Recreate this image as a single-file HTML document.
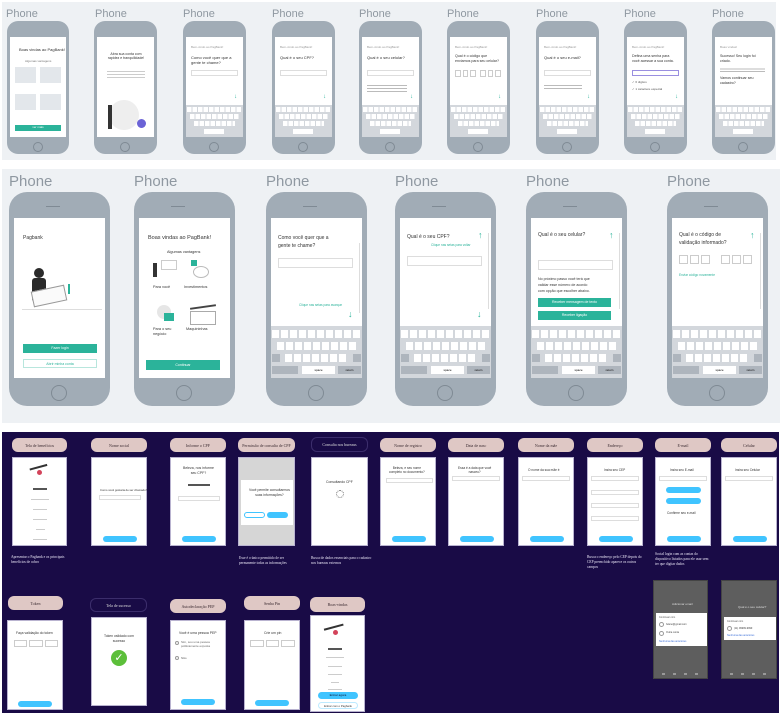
<!DOCTYPE html>
<html><head><meta charset="utf-8"><style>
*{margin:0;padding:0;box-sizing:border-box}
body{width:784px;height:718px;background:#fff;position:relative;overflow:hidden;font-family:"Liberation Sans",sans-serif}
.a{position:absolute}
.band1{left:2px;top:2px;width:774px;height:158px;background:#eef1f4}
.band2{left:2px;top:169px;width:778px;height:254px;background:#eef1f4}
.band3{left:2px;top:432px;width:777px;height:281px;background:#190b46}
.lbl{color:#8f98a1;font-weight:normal}
.sp{background:#a1acb6}
.scr{background:#fff;overflow:hidden}
.kb{position:absolute;left:0;right:0;bottom:0;background:#d3d7dc}
.row{position:absolute;background:repeating-linear-gradient(90deg,#fff 0 78%,transparent 78% 100%)}
.hb{border:1px solid #7f8a94;border-radius:50%}
.t{position:absolute;color:#333;white-space:nowrap}
.teal{background:#2bb39a;color:#fff;text-align:center}
.pill{background:#dfc8c5;border-radius:6px;color:#3a2a30;font-family:"Liberation Serif",serif;font-size:4px;text-align:center;display:flex;align-items:center;justify-content:center}
.pillo{border:1px solid #3b2d6b;border-radius:6px;color:#ddd;font-family:"Liberation Serif",serif;font-size:4px;display:flex;align-items:center;justify-content:center;text-align:center}
.ws{background:#fff;border:1px solid #b9b3d0}
.bb{position:absolute;background:#40c4ff;border-radius:4px;height:6px}
.cap{color:#e8e4f5;font-family:"Liberation Serif",serif;font-size:3.6px;line-height:5px}
.ln{position:absolute;height:1px;background:#ccc}
.in{position:absolute;border:1px solid #ddd;background:#fff}
.bx{position:absolute;display:flex;gap:2px}
.bx i{display:block;flex:1;border:1px solid #ccc}
</style></head><body>
<div class="a band1"></div>
<div class="a band2"></div>
<div class="a band3"></div>

<div class="a lbl" style="left:6px;top:8px;font-size:11px">Phone</div>
<div class="a lbl" style="left:95px;top:8px;font-size:11px">Phone</div>
<div class="a lbl" style="left:183px;top:8px;font-size:11px">Phone</div>
<div class="a lbl" style="left:272px;top:8px;font-size:11px">Phone</div>
<div class="a lbl" style="left:359px;top:8px;font-size:11px">Phone</div>
<div class="a lbl" style="left:447px;top:8px;font-size:11px">Phone</div>
<div class="a lbl" style="left:536px;top:8px;font-size:11px">Phone</div>
<div class="a lbl" style="left:624px;top:8px;font-size:11px">Phone</div>
<div class="a lbl" style="left:712px;top:8px;font-size:11px">Phone</div>

<div class="a sp" style="left:7px;top:21px;width:62px;height:133px;border-radius:11px">
 <div class="a scr" style="left:3px;top:16px;width:56px;height:100px">
  <div class="t" style="left:9px;top:10px;font-size:4px">Boas vindas ao PagBank!</div>
  <div class="t" style="left:15px;top:22px;font-size:3px;color:#777">Algumas vantagens</div>
  <div class="a" style="left:5px;top:30px;width:21px;height:16px;background:#e3e7eb"></div>
  <div class="a" style="left:30px;top:30px;width:21px;height:16px;background:#e3e7eb"></div>
  <div class="a" style="left:5px;top:57px;width:21px;height:16px;background:#e3e7eb"></div>
  <div class="a" style="left:30px;top:57px;width:21px;height:16px;background:#e3e7eb"></div>
  <div class="a teal" style="left:5px;top:88px;width:46px;height:6px;font-size:3px">ver mais</div>
 </div>
 <div class="a hb" style="left:26px;top:121px;width:10px;height:10px"></div>
</div>
<div class="a sp" style="left:94px;top:21px;width:63px;height:133px;border-radius:11px">
 <div class="a scr" style="left:3px;top:16px;width:57px;height:100px">
  <div class="t" style="left:10px;top:15px;font-size:3.5px;line-height:4px;text-align:center;white-space:normal;width:38px">Abra sua conta com rapidez e tranquilidade!</div>
  <div class="a" style="left:10px;top:32px;width:38px;height:10px;background:repeating-linear-gradient(#fff 0 2px,#ccc 2px 3px)"></div>
  <div class="a" style="left:12px;top:63px;width:30px;height:30px;border-radius:50%;background:#eee"></div>
  <div class="a" style="left:11px;top:68px;width:4px;height:24px;background:#333"></div>
  <div class="a" style="left:40px;top:82px;width:9px;height:9px;border-radius:50%;background:#6b63d6"></div>
 </div>
 <div class="a hb" style="left:26px;top:121px;width:10px;height:10px"></div>
</div>

<div class="a sp" style="left:183px;top:21px;width:63px;height:133px;border-radius:11px"><div class="a scr" style="left:3px;top:16px;width:57px;height:100px"><div class="t" style="left:5px;top:8px;font-size:3px;color:#999">Bem-vindo ao PagBank!</div><div class="t" style="left:5px;top:18px;font-size:4px;line-height:5px">Como você quer que a<br>gente te chame?</div><div class="in" style="left:5px;top:33px;width:47px;height:6px"></div><div class="t" style="left:48px;top:57px;font-size:6px;color:#2bb39a">↓</div>
<div class="kb" style="height:32px"><div class="row" style="left:1px;right:1px;top:2px;height:5px;background-size:5.5px 5px"></div><div class="row" style="left:4px;right:4px;top:9px;height:5px;background-size:5.5px 5px"></div><div class="row" style="left:8px;right:8px;top:16px;height:5px;background-size:5.5px 5px"></div><div class="a" style="left:18px;top:24px;width:20px;height:5px;background:#fff"></div></div></div><div class="a hb" style="left:26px;top:121px;width:10px;height:10px"></div></div>

<div class="a sp" style="left:272px;top:21px;width:63px;height:133px;border-radius:11px"><div class="a scr" style="left:3px;top:16px;width:57px;height:100px"><div class="t" style="left:5px;top:8px;font-size:3px;color:#999">Bem-vindo ao PagBank!</div><div class="t" style="left:5px;top:18px;font-size:4px">Qual é o seu CPF?</div><div class="in" style="left:5px;top:33px;width:47px;height:6px"></div><div class="t" style="left:48px;top:57px;font-size:6px;color:#2bb39a">↓</div>
<div class="kb" style="height:32px"><div class="row" style="left:1px;right:1px;top:2px;height:5px;background-size:5.5px 5px"></div><div class="row" style="left:4px;right:4px;top:9px;height:5px;background-size:5.5px 5px"></div><div class="row" style="left:8px;right:8px;top:16px;height:5px;background-size:5.5px 5px"></div><div class="a" style="left:18px;top:24px;width:20px;height:5px;background:#fff"></div></div></div><div class="a hb" style="left:26px;top:121px;width:10px;height:10px"></div></div>

<div class="a sp" style="left:359px;top:21px;width:63px;height:133px;border-radius:11px"><div class="a scr" style="left:3px;top:16px;width:57px;height:100px"><div class="t" style="left:5px;top:8px;font-size:3px;color:#999">Bem-vindo ao PagBank!</div><div class="t" style="left:5px;top:18px;font-size:4px">Qual é o seu celular?</div><div class="in" style="left:5px;top:33px;width:47px;height:6px"></div><div class="a" style="left:5px;top:46px;width:40px;height:10px;background:repeating-linear-gradient(#fff 0 2px,#bbb 2px 3px)"></div><div class="t" style="left:48px;top:57px;font-size:6px;color:#2bb39a">↓</div>
<div class="kb" style="height:32px"><div class="row" style="left:1px;right:1px;top:2px;height:5px;background-size:5.5px 5px"></div><div class="row" style="left:4px;right:4px;top:9px;height:5px;background-size:5.5px 5px"></div><div class="row" style="left:8px;right:8px;top:16px;height:5px;background-size:5.5px 5px"></div><div class="a" style="left:18px;top:24px;width:20px;height:5px;background:#fff"></div></div></div><div class="a hb" style="left:26px;top:121px;width:10px;height:10px"></div></div>

<div class="a sp" style="left:447px;top:21px;width:63px;height:133px;border-radius:11px"><div class="a scr" style="left:3px;top:16px;width:57px;height:100px"><div class="t" style="left:5px;top:8px;font-size:3px;color:#999">Bem-vindo ao PagBank!</div><div class="t" style="left:5px;top:17px;font-size:3.6px;line-height:4.5px">Qual é o código que<br>enviamos para seu celular?</div><div class="bx" style="left:5px;top:33px;width:21px;height:7px"><i></i><i></i><i></i></div><div class="bx" style="left:30px;top:33px;width:21px;height:7px"><i></i><i></i><i></i></div><div class="t" style="left:48px;top:57px;font-size:6px;color:#2bb39a">↓</div>
<div class="kb" style="height:32px"><div class="row" style="left:1px;right:1px;top:2px;height:5px;background-size:5.5px 5px"></div><div class="row" style="left:4px;right:4px;top:9px;height:5px;background-size:5.5px 5px"></div><div class="row" style="left:8px;right:8px;top:16px;height:5px;background-size:5.5px 5px"></div><div class="a" style="left:18px;top:24px;width:20px;height:5px;background:#fff"></div></div></div><div class="a hb" style="left:26px;top:121px;width:10px;height:10px"></div></div>

<div class="a sp" style="left:536px;top:21px;width:63px;height:133px;border-radius:11px"><div class="a scr" style="left:3px;top:16px;width:57px;height:100px"><div class="t" style="left:5px;top:8px;font-size:3px;color:#999">Bem-vindo ao PagBank!</div><div class="t" style="left:5px;top:18px;font-size:4px">Qual é o seu e-mail?</div><div class="in" style="left:5px;top:33px;width:47px;height:6px"></div><div class="a" style="left:5px;top:46px;width:38px;height:6px;background:repeating-linear-gradient(#fff 0 2px,#bbb 2px 3px)"></div><div class="t" style="left:48px;top:57px;font-size:6px;color:#2bb39a">↓</div>
<div class="kb" style="height:32px"><div class="row" style="left:1px;right:1px;top:2px;height:5px;background-size:5.5px 5px"></div><div class="row" style="left:4px;right:4px;top:9px;height:5px;background-size:5.5px 5px"></div><div class="row" style="left:8px;right:8px;top:16px;height:5px;background-size:5.5px 5px"></div><div class="a" style="left:18px;top:24px;width:20px;height:5px;background:#fff"></div></div></div><div class="a hb" style="left:26px;top:121px;width:10px;height:10px"></div></div>

<div class="a sp" style="left:624px;top:21px;width:63px;height:133px;border-radius:11px"><div class="a scr" style="left:3px;top:16px;width:57px;height:100px"><div class="t" style="left:5px;top:8px;font-size:3px;color:#999">Bem-vindo ao PagBank!</div><div class="t" style="left:5px;top:17px;font-size:3.6px;line-height:4.5px">Defina uma senha para<br>você acessar a sua conta.</div><div class="in" style="left:5px;top:33px;width:47px;height:6px;border-color:#9a8fe0"></div><div class="t" style="left:5px;top:43px;font-size:3px;color:#555">✓ 6 dígitos</div><div class="t" style="left:5px;top:50px;font-size:3px;color:#555">✓ 1 caractere especial</div><div class="t" style="left:48px;top:57px;font-size:6px;color:#2bb39a">↓</div>
<div class="kb" style="height:32px"><div class="row" style="left:1px;right:1px;top:2px;height:5px;background-size:5.5px 5px"></div><div class="row" style="left:4px;right:4px;top:9px;height:5px;background-size:5.5px 5px"></div><div class="row" style="left:8px;right:8px;top:16px;height:5px;background-size:5.5px 5px"></div><div class="a" style="left:18px;top:24px;width:20px;height:5px;background:#fff"></div></div></div><div class="a hb" style="left:26px;top:121px;width:10px;height:10px"></div></div>

<div class="a sp" style="left:712px;top:21px;width:63px;height:133px;border-radius:11px"><div class="a scr" style="left:3px;top:16px;width:57px;height:100px"><div class="t" style="left:5px;top:8px;font-size:3px;color:#999">Boas vindas!</div><div class="t" style="left:5px;top:17px;font-size:3.6px;line-height:4.5px">Sucesso! Seu login foi<br>criado.</div><div class="a" style="left:5px;top:30px;width:45px;height:5px;background:repeating-linear-gradient(#fff 0 1.5px,#bbb 1.5px 2.5px)"></div><div class="t" style="left:5px;top:39px;font-size:3.6px;line-height:4.5px">Vamos continuar seu<br>cadastro?</div>
<div class="kb" style="height:32px"><div class="row" style="left:1px;right:1px;top:2px;height:5px;background-size:5.5px 5px"></div><div class="row" style="left:4px;right:4px;top:9px;height:5px;background-size:5.5px 5px"></div><div class="row" style="left:8px;right:8px;top:16px;height:5px;background-size:5.5px 5px"></div><div class="a" style="left:18px;top:24px;width:20px;height:5px;background:#fff"></div></div></div><div class="a hb" style="left:26px;top:121px;width:10px;height:10px"></div></div>

<div class="a lbl" style="left:9px;top:173px;font-size:15px">Phone</div>
<div class="a lbl" style="left:134px;top:173px;font-size:15px">Phone</div>
<div class="a lbl" style="left:266px;top:173px;font-size:15px">Phone</div>
<div class="a lbl" style="left:395px;top:173px;font-size:15px">Phone</div>
<div class="a lbl" style="left:526px;top:173px;font-size:15px">Phone</div>
<div class="a lbl" style="left:667px;top:173px;font-size:15px">Phone</div>

<div class="a sp" style="left:9px;top:192px;width:101px;height:214px;border-radius:18px">
 <div class="a" style="left:37px;top:14px;width:14px;height:1px;background:#7f8a94"></div>
 <div class="a scr" style="left:5px;top:26px;width:91px;height:160px">
  <div class="t" style="left:9px;top:17px;font-size:5px">Pagbank</div>
  <div class="a" style="left:20px;top:50px;width:10px;height:10px;border-radius:50%;background:#2a2a2a"></div>
  <div class="a" style="left:18px;top:60px;width:14px;height:24px;background:#2a2a2a;border-radius:3px"></div>
  <div class="a" style="left:18px;top:70px;width:34px;height:16px;border:1px solid #999;background:#fafafa;transform:rotate(-12deg)"></div>
  <div class="a" style="left:54px;top:66px;width:2px;height:10px;background:#2bb39a"></div>
  <div class="a" style="left:8px;top:91px;width:80px;height:1px;background:#ddd"></div>
  <div class="a teal" style="left:9px;top:126px;width:74px;height:9px;font-size:3.5px;line-height:9px">Fazer login</div>
  <div class="a" style="left:9px;top:141px;width:74px;height:9px;border:1px solid #b8e6dd;font-size:3.5px;line-height:8px;color:#2bb39a;text-align:center">Abrir minha conta</div>
 </div>
 <div class="a hb" style="left:42px;top:193px;width:16px;height:16px"></div>
</div>
<div class="a sp" style="left:134px;top:192px;width:101px;height:214px;border-radius:18px">
 <div class="a" style="left:37px;top:14px;width:14px;height:1px;background:#7f8a94"></div>
 <div class="a scr" style="left:5px;top:26px;width:91px;height:160px">
  <div class="t" style="left:9px;top:17px;font-size:5.5px">Boas vindas ao PagBank!</div>
  <div class="t" style="left:28px;top:32px;font-size:3.8px">Algumas vantagens</div>
  <div class="a" style="left:14px;top:45px;width:4px;height:14px;background:#333"></div>
  <div class="a" style="left:22px;top:42px;width:16px;height:10px;border:1px solid #ccc"></div>
  <div class="a" style="left:52px;top:42px;width:6px;height:6px;background:#2bb39a"></div>
  <div class="a" style="left:54px;top:48px;width:16px;height:12px;border-radius:50%;border:1px solid #bbb"></div>
  <div class="t" style="left:14px;top:67px;font-size:3.8px">Para você</div>
  <div class="t" style="left:45px;top:67px;font-size:3.8px">Investimentos</div>
  <div class="a" style="left:18px;top:87px;width:14px;height:14px;border-radius:50%;background:#e6e6e6"></div>
  <div class="a" style="left:25px;top:95px;width:10px;height:8px;background:#2bb39a"></div>
  <div class="a" style="left:51px;top:93px;width:26px;height:14px;border:1px solid #aaa"></div>
  <div class="a" style="left:51px;top:88px;width:26px;height:2px;background:#444;transform:rotate(-8deg)"></div>
  <div class="t" style="left:14px;top:109px;font-size:3.8px;line-height:5px">Para o seu<br>negócio</div>
  <div class="t" style="left:47px;top:109px;font-size:3.8px">Maquininhas</div>
  <div class="a teal" style="left:7px;top:142px;width:74px;height:10px;font-size:3.5px;line-height:10px">Continuar</div>
 </div>
 <div class="a hb" style="left:42px;top:193px;width:16px;height:16px"></div>
</div>

<div class="a sp" style="left:266px;top:192px;width:101px;height:214px;border-radius:18px">
 <div class="a" style="left:37px;top:14px;width:14px;height:1px;background:#7f8a94"></div>
 <div class="a scr" style="left:5px;top:26px;width:91px;height:160px">
  <div class="t" style="left:7px;top:16px;font-size:5px;line-height:8px">Como você quer que a<br>gente te chame?</div>
  <div class="in" style="left:7px;top:40px;width:75px;height:10px"></div>
  <div class="a" style="left:88px;top:25px;width:1px;height:70px;background:#ddd"></div>
  <div class="t" style="left:28px;top:85px;font-size:3.2px;color:#2bb39a">Clique nas setas para avançar</div>
  <div class="t" style="left:77px;top:91px;font-size:9px;color:#2bb39a;font-weight:bold">↓</div>
  <div class="kb" style="height:52px"><div class="row" style="left:1px;right:0;top:4px;height:8px;background-size:9px 8px"></div><div class="row" style="left:6px;right:5px;top:16px;height:8px;background-size:9px 8px"></div><div class="a" style="left:1px;top:28px;width:8px;height:8px;background:#aeb5bd"></div><div class="row" style="left:14px;right:14px;top:28px;height:8px;background-size:9px 8px"></div><div class="a" style="right:1px;top:28px;width:8px;height:8px;background:#aeb5bd"></div><div class="a" style="left:1px;top:40px;width:26px;height:8px;background:#aeb5bd"></div><div class="a" style="left:31px;top:40px;width:33px;height:8px;background:#fff;font-size:3px;text-align:center;line-height:8px">space</div><div class="a" style="left:67px;top:40px;width:23px;height:8px;background:#aeb5bd;font-size:3px;text-align:center;line-height:8px">return</div></div>
 </div>
 <div class="a hb" style="left:42px;top:193px;width:16px;height:16px"></div>
</div>

<div class="a sp" style="left:395px;top:192px;width:101px;height:214px;border-radius:18px">
 <div class="a" style="left:37px;top:14px;width:14px;height:1px;background:#7f8a94"></div>
 <div class="a scr" style="left:5px;top:26px;width:91px;height:160px">
  <div class="t" style="left:7px;top:16px;font-size:5px">Qual é o seu CPF?</div>
  <div class="t" style="left:78px;top:12px;font-size:9px;color:#2bb39a;font-weight:bold">↑</div>
  <div class="t" style="left:31px;top:25px;font-size:3.2px;color:#2bb39a">Clique nas setas para voltar</div>
  <div class="in" style="left:7px;top:38px;width:75px;height:10px"></div>
  <div class="a" style="left:88px;top:15px;width:1px;height:76px;background:#ddd"></div>
  <div class="t" style="left:77px;top:91px;font-size:9px;color:#2bb39a;font-weight:bold">↓</div>
  <div class="kb" style="height:52px"><div class="row" style="left:1px;right:0;top:4px;height:8px;background-size:9px 8px"></div><div class="row" style="left:6px;right:5px;top:16px;height:8px;background-size:9px 8px"></div><div class="a" style="left:1px;top:28px;width:8px;height:8px;background:#aeb5bd"></div><div class="row" style="left:14px;right:14px;top:28px;height:8px;background-size:9px 8px"></div><div class="a" style="right:1px;top:28px;width:8px;height:8px;background:#aeb5bd"></div><div class="a" style="left:1px;top:40px;width:26px;height:8px;background:#aeb5bd"></div><div class="a" style="left:31px;top:40px;width:33px;height:8px;background:#fff;font-size:3px;text-align:center;line-height:8px">space</div><div class="a" style="left:67px;top:40px;width:23px;height:8px;background:#aeb5bd;font-size:3px;text-align:center;line-height:8px">return</div></div>
 </div>
 <div class="a hb" style="left:42px;top:193px;width:16px;height:16px"></div>
</div>

<div class="a sp" style="left:526px;top:192px;width:101px;height:214px;border-radius:18px">
 <div class="a" style="left:37px;top:14px;width:14px;height:1px;background:#7f8a94"></div>
 <div class="a scr" style="left:5px;top:26px;width:91px;height:160px">
  <div class="t" style="left:7px;top:14px;font-size:5px">Qual é o seu celular?</div>
  <div class="t" style="left:78px;top:12px;font-size:9px;color:#2bb39a;font-weight:bold">↑</div>
  <div class="in" style="left:7px;top:42px;width:75px;height:10px"></div>
  <div class="t" style="left:7px;top:58px;font-size:3.6px;line-height:6px">No próximo passo você terá que<br>validar esse número de acordo<br>com opção que escolher abaixo.</div>
  <div class="a" style="left:88px;top:15px;width:1px;height:76px;background:#ddd"></div>
  <div class="a teal" style="left:7px;top:80px;width:73px;height:9px;font-size:3.5px;line-height:9px">Receber mensagem de texto</div>
  <div class="a teal" style="left:7px;top:93px;width:73px;height:9px;font-size:3.5px;line-height:9px">Receber ligação</div>
  <div class="kb" style="height:52px"><div class="row" style="left:1px;right:0;top:4px;height:8px;background-size:9px 8px"></div><div class="row" style="left:6px;right:5px;top:16px;height:8px;background-size:9px 8px"></div><div class="a" style="left:1px;top:28px;width:8px;height:8px;background:#aeb5bd"></div><div class="row" style="left:14px;right:14px;top:28px;height:8px;background-size:9px 8px"></div><div class="a" style="right:1px;top:28px;width:8px;height:8px;background:#aeb5bd"></div><div class="a" style="left:1px;top:40px;width:26px;height:8px;background:#aeb5bd"></div><div class="a" style="left:31px;top:40px;width:33px;height:8px;background:#fff;font-size:3px;text-align:center;line-height:8px">space</div><div class="a" style="left:67px;top:40px;width:23px;height:8px;background:#aeb5bd;font-size:3px;text-align:center;line-height:8px">return</div></div>
 </div>
 <div class="a hb" style="left:42px;top:193px;width:16px;height:16px"></div>
</div>

<div class="a sp" style="left:667px;top:192px;width:101px;height:214px;border-radius:18px">
 <div class="a" style="left:37px;top:14px;width:14px;height:1px;background:#7f8a94"></div>
 <div class="a scr" style="left:5px;top:26px;width:91px;height:160px">
  <div class="t" style="left:7px;top:13px;font-size:5px;line-height:8px">Qual é o código de<br>validação informado?</div>
  <div class="t" style="left:78px;top:12px;font-size:9px;color:#2bb39a;font-weight:bold">↑</div>
  <div class="bx" style="left:7px;top:37px;width:31px;height:9px"><i></i><i></i><i></i></div>
  <div class="bx" style="left:49px;top:37px;width:31px;height:9px"><i></i><i></i><i></i></div>
  <div class="t" style="left:7px;top:55px;font-size:3.2px;color:#2bb39a">Enviar código novamente</div>
  <div class="a" style="left:88px;top:15px;width:1px;height:76px;background:#ddd"></div>
  <div class="kb" style="height:52px"><div class="row" style="left:1px;right:0;top:4px;height:8px;background-size:9px 8px"></div><div class="row" style="left:6px;right:5px;top:16px;height:8px;background-size:9px 8px"></div><div class="a" style="left:1px;top:28px;width:8px;height:8px;background:#aeb5bd"></div><div class="row" style="left:14px;right:14px;top:28px;height:8px;background-size:9px 8px"></div><div class="a" style="right:1px;top:28px;width:8px;height:8px;background:#aeb5bd"></div><div class="a" style="left:1px;top:40px;width:26px;height:8px;background:#aeb5bd"></div><div class="a" style="left:31px;top:40px;width:33px;height:8px;background:#fff;font-size:3px;text-align:center;line-height:8px">space</div><div class="a" style="left:67px;top:40px;width:23px;height:8px;background:#aeb5bd;font-size:3px;text-align:center;line-height:8px">return</div></div>
 </div>
 <div class="a hb" style="left:42px;top:193px;width:16px;height:16px"></div>
</div>

<div class="a pill" style="left:12px;top:438px;width:55px;height:14px">Tela de benefícios</div>
<div class="a pill" style="left:91px;top:438px;width:56px;height:14px">Nome social</div>
<div class="a pill" style="left:170px;top:438px;width:56px;height:14px">Informe o CPF</div>
<div class="a pill" style="left:238px;top:438px;width:57px;height:14px;line-height:5px">Permissão de consulta de CPF</div>
<div class="a pillo" style="left:311px;top:437px;width:57px;height:15px">Consulta nos bureaus</div>
<div class="a pill" style="left:380px;top:438px;width:56px;height:14px">Nome de registro</div>
<div class="a pill" style="left:448px;top:438px;width:56px;height:14px">Data de nasc</div>
<div class="a pill" style="left:518px;top:438px;width:56px;height:14px">Nome da mãe</div>
<div class="a pill" style="left:587px;top:438px;width:56px;height:14px">Endereço</div>
<div class="a pill" style="left:655px;top:438px;width:56px;height:14px">E-mail</div>
<div class="a pill" style="left:721px;top:438px;width:56px;height:14px">Celular</div>

<div class="a ws" style="left:12px;top:457px;width:55px;height:89px">
 <div class="a" style="left:18px;top:8px;width:18px;height:14px;border-top:2px solid #333;transform:rotate(-15deg)"></div>
 <div class="a" style="left:24px;top:12px;width:5px;height:5px;background:#d3435a;border-radius:50%"></div>
 <div class="a" style="left:20px;top:30px;width:14px;height:2px;background:#555"></div>
 <div class="ln" style="left:18px;top:41px;width:18px"></div><div class="ln" style="left:20px;top:51px;width:14px"></div><div class="ln" style="left:20px;top:61px;width:14px"></div><div class="ln" style="left:23px;top:71px;width:9px"></div><div class="ln" style="left:20px;top:81px;width:14px"></div>
</div>
<div class="a ws" style="left:91px;top:457px;width:56px;height:89px">
 <div class="t" style="left:8px;top:30px;font-size:2.8px">Como você gostaria de ser chamado?</div>
 <div class="in" style="left:7px;top:37px;width:42px;height:5px"></div>
 <div class="bb" style="left:11px;top:78px;width:34px"></div>
</div>
<div class="a ws" style="left:170px;top:457px;width:56px;height:89px">
 <div class="t" style="left:12px;top:8px;font-size:3.5px;line-height:4.5px;text-align:center">Beleza, nos informe<br>seu CPF?</div>
 <div class="a" style="left:17px;top:26px;width:22px;height:2px;background:#555"></div>
 <div class="in" style="left:7px;top:38px;width:42px;height:5px"></div>
 <div class="bb" style="left:11px;top:78px;width:34px"></div>
</div>
<div class="a ws" style="left:238px;top:457px;width:57px;height:89px;background:#d6d6d6">
 <div class="a" style="left:2px;top:22px;width:52px;height:45px;background:#fff"></div>
 <div class="t" style="left:10px;top:30px;font-size:3.4px;line-height:4.5px;text-align:center">Você permite consultarmos<br>suas informações?</div>
 <div class="a" style="left:5px;top:54px;width:21px;height:6px;border:1px solid #40c4ff;border-radius:3px;background:#fff"></div>
 <div class="bb" style="left:28px;top:54px;width:21px"></div>
</div>
<div class="a ws" style="left:311px;top:457px;width:57px;height:89px">
 <div class="t" style="left:14px;top:22px;font-size:3.4px">Consultando CPF</div>
 <div class="a" style="left:24px;top:32px;width:8px;height:8px;border:1px dotted #777;border-radius:50%"></div>
</div>
<div class="a ws" style="left:380px;top:457px;width:56px;height:89px">
 <div class="t" style="left:8px;top:8px;font-size:3.2px;line-height:4.2px;text-align:center">Beleza, e seu nome<br>completo no documento?</div>
 <div class="in" style="left:5px;top:20px;width:47px;height:5px"></div>
 <div class="bb" style="left:11px;top:78px;width:34px"></div>
</div>
<div class="a ws" style="left:448px;top:457px;width:56px;height:89px">
 <div class="t" style="left:9px;top:8px;font-size:3.2px;line-height:4.2px;text-align:center">Essa é a data que você<br>nasceu?</div>
 <div class="in" style="left:3px;top:18px;width:48px;height:5px"></div>
 <div class="bb" style="left:11px;top:78px;width:34px"></div>
</div>
<div class="a ws" style="left:518px;top:457px;width:56px;height:89px">
 <div class="t" style="left:9px;top:10px;font-size:3.2px">O nome da sua mãe é</div>
 <div class="in" style="left:3px;top:18px;width:48px;height:5px"></div>
 <div class="bb" style="left:11px;top:78px;width:34px"></div>
</div>
<div class="a ws" style="left:587px;top:457px;width:56px;height:89px">
 <div class="t" style="left:16px;top:10px;font-size:3.2px">Insira seu CEP</div>
 <div class="in" style="left:3px;top:18px;width:48px;height:5px"></div>
 <div class="in" style="left:3px;top:32px;width:48px;height:5px"></div>
 <div class="in" style="left:3px;top:45px;width:48px;height:5px"></div>
 <div class="in" style="left:3px;top:58px;width:48px;height:5px"></div>
 <div class="bb" style="left:11px;top:78px;width:34px"></div>
</div>
<div class="a ws" style="left:655px;top:457px;width:56px;height:89px">
 <div class="t" style="left:14px;top:10px;font-size:3.2px">Insira seu E-mail</div>
 <div class="in" style="left:3px;top:18px;width:48px;height:5px"></div>
 <div class="bb" style="left:10px;top:29px;width:35px"></div>
 <div class="bb" style="left:10px;top:40px;width:35px"></div>
 <div class="t" style="left:11px;top:53px;font-size:3.2px">Confirme seu e-mail</div>
 <div class="bb" style="left:11px;top:78px;width:34px"></div>
</div>
<div class="a ws" style="left:721px;top:457px;width:56px;height:89px">
 <div class="t" style="left:13px;top:10px;font-size:3.2px">Insira seu Celular</div>
 <div class="in" style="left:3px;top:18px;width:48px;height:5px"></div>
 <div class="bb" style="left:11px;top:78px;width:34px"></div>
</div>

<div class="a cap" style="left:11px;top:555px;width:62px">Apresentar o Pagbank e os principais benefícios de cobro</div>
<div class="a cap" style="left:239px;top:556px;width:60px">Esse é o único permitido de ser permanente todas as informações</div>
<div class="a cap" style="left:311px;top:556px;width:62px">Busca de dados essenciais para o cadastro nos bureaus externos</div>
<div class="a cap" style="left:587px;top:555px;width:56px">Busca o endereço pelo CEP depois do CEP preenchido aparece os outros campos</div>
<div class="a cap" style="left:655px;top:552px;width:58px">Social login com as contas do dispositivo listados para ele usar sem ter que digitar dados</div>

<div class="a pill" style="left:8px;top:596px;width:55px;height:14px">Token</div>
<div class="a pillo" style="left:90px;top:598px;width:57px;height:14px">Tela de sucesso</div>
<div class="a pill" style="left:170px;top:599px;width:56px;height:14px">Autodeclaração PEP</div>
<div class="a pill" style="left:244px;top:596px;width:56px;height:14px">Senha Pin</div>
<div class="a pill" style="left:310px;top:597px;width:55px;height:15px">Boas-vindas</div>

<div class="a ws" style="left:7px;top:620px;width:56px;height:90px">
 <div class="t" style="left:8px;top:10px;font-size:3.4px">Faça validação do token</div>
 <div class="bx" style="left:6px;top:19px;width:44px;height:7px"><i></i><i></i><i></i></div>
 <div class="bb" style="left:10px;top:80px;width:34px"></div>
</div>
<div class="a ws" style="left:91px;top:617px;width:56px;height:89px">
 <div class="t" style="left:12px;top:16px;font-size:3.4px;line-height:4.5px;text-align:center">Token validado com<br>sucesso</div>
 <div class="a" style="left:19px;top:32px;width:16px;height:16px;border-radius:50%;background:#5cbf3a;color:#fff;font-size:11px;line-height:16px;text-align:center">✓</div>
</div>
<div class="a ws" style="left:170px;top:620px;width:56px;height:90px">
 <div class="t" style="left:8px;top:10px;font-size:3.4px">Você é uma pessoa PEP</div>
 <div class="a" style="left:4px;top:20px;width:4px;height:4px;border:1px solid #999;border-radius:50%"></div>
 <div class="t" style="left:10px;top:19px;font-size:3px;line-height:4px;color:#666">Sim, sou uma pessoa<br>politicamente exposta</div>
 <div class="a" style="left:4px;top:35px;width:4px;height:4px;border:1px solid #999;border-radius:50%"></div>
 <div class="t" style="left:10px;top:35px;font-size:3px;color:#666">Não</div>
 <div class="bb" style="left:10px;top:78px;width:34px"></div>
</div>
<div class="a ws" style="left:244px;top:620px;width:56px;height:90px">
 <div class="t" style="left:19px;top:10px;font-size:3.4px">Crie um pin</div>
 <div class="bx" style="left:5px;top:19px;width:45px;height:7px"><i></i><i></i><i></i></div>
 <div class="bb" style="left:10px;top:79px;width:34px"></div>
</div>
<div class="a ws" style="left:310px;top:615px;width:55px;height:97px">
 <div class="a" style="left:14px;top:10px;width:20px;height:12px;border-top:2px solid #333;transform:rotate(-15deg)"></div>
 <div class="a" style="left:22px;top:14px;width:5px;height:5px;background:#d3435a;border-radius:50%"></div>
 <div class="a" style="left:17px;top:32px;width:14px;height:2px;background:#555"></div>
 <div class="ln" style="left:15px;top:41px;width:18px"></div><div class="ln" style="left:17px;top:50px;width:14px"></div><div class="ln" style="left:17px;top:58px;width:14px"></div><div class="ln" style="left:20px;top:66px;width:8px"></div><div class="ln" style="left:17px;top:73px;width:14px"></div>
 <div class="bb" style="left:7px;top:76px;width:40px;height:7px;font-size:3px;text-align:center;line-height:7px;color:#113">Entrar agora</div>
 <div class="a" style="left:7px;top:86px;width:40px;height:7px;border:1px solid #bdeaff;border-radius:4px;font-size:2.8px;text-align:center;line-height:6px;color:#333">Entrar com o Pagbank</div>
</div>

<div class="a" style="left:653px;top:580px;width:55px;height:99px;background:#5e5e5e;border:1px solid #444">
 <div class="t" style="left:18px;top:21px;font-size:3px;color:#ddd">Adicionar email</div>
 <div class="a" style="left:2px;top:32px;width:51px;height:33px;background:#fff">
  <div class="t" style="left:3px;top:3px;font-size:2.5px;color:#555">Continuar com</div>
  <div class="a" style="left:3px;top:9px;width:5px;height:5px;border:1px solid #999;border-radius:50%"></div>
  <div class="t" style="left:10px;top:10px;font-size:2.5px;color:#444">fulano@gmail.com</div>
  <div class="a" style="left:3px;top:18px;width:5px;height:5px;border:1px solid #999;border-radius:50%"></div>
  <div class="t" style="left:10px;top:18px;font-size:2.5px;color:#444">Outra conta</div>
  <div class="t" style="left:3px;top:27px;font-size:2.5px;color:#3c6fd8">Nenhuma das anteriores</div>
 </div>
 <div class="a" style="left:8px;top:92px;width:40px;height:2px;background:repeating-linear-gradient(90deg,#999 0 3px,transparent 3px 11px)"></div>
</div>
<div class="a" style="left:721px;top:580px;width:56px;height:99px;background:#5e5e5e;border:1px solid #444">
 <div class="t" style="left:16px;top:24px;font-size:3px;color:#ddd">Qual é o seu celular?</div>
 <div class="a" style="left:2px;top:36px;width:52px;height:23px;background:#fff">
  <div class="t" style="left:3px;top:3px;font-size:2.5px;color:#555">Continuar com</div>
  <div class="a" style="left:3px;top:9px;width:5px;height:5px;border:1px solid #999;border-radius:50%"></div>
  <div class="t" style="left:10px;top:10px;font-size:2.5px;color:#444">(11) 99999-9999</div>
  <div class="t" style="left:3px;top:17px;font-size:2.5px;color:#3c6fd8">Nenhuma das anteriores</div>
 </div>
 <div class="a" style="left:8px;top:92px;width:40px;height:2px;background:repeating-linear-gradient(90deg,#999 0 3px,transparent 3px 11px)"></div>
</div>
</body></html>
